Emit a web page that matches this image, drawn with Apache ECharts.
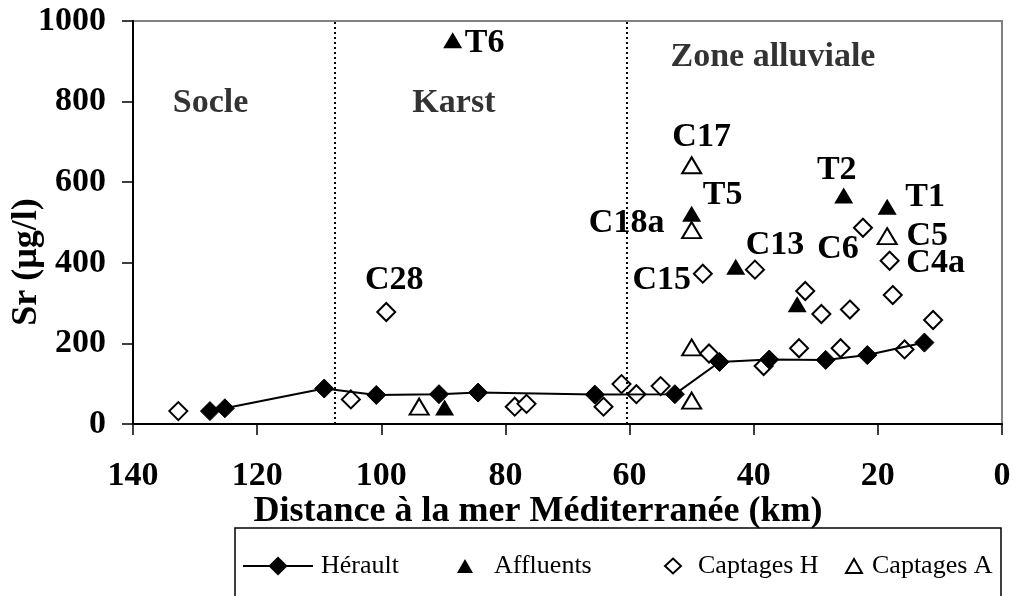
<!DOCTYPE html>
<html lang="fr">
<head>
    <meta charset="UTF-8">
    <title>Sr - Hérault</title>
    <script src="https://cdn.jsdelivr.net/npm/echarts@6/dist/echarts.min.js"></script>
    <style>
        html, body { margin: 0; padding: 0; background: #fff; }
        #chart { width: 1014px; height: 596px; }
    </style>
</head>
<body>
    <div id="chart"></div>
    <script>
        // données (distance en km, Sr en µg/l)
        var heraultKm = [127.6, 125.2, 109.2, 100.8, 90.7, 84.4, 65.6, 52.7, 45.5, 37.5, 28.4, 21.7, 12.5];
        var heraultSr = [32, 39, 88, 72, 74, 78, 73, 74, 154, 160, 159, 171, 202];

        var affluentsKm = [89.8, 88.5, 50, 42.9, 33, 25.5, 18.5];
        var affluentsSr = [41, 952, 522, 390, 297, 567, 539];
        var affluentsLbl = ['', 'T6', 'T5', '', '', 'T2', 'T1'];

        var captHKm = [132.7, 104.9, 99.2, 78.5, 76.6, 64.2, 61.3, 58.9, 55, 48.2, 47.2, 39.8, 38.4, 32.7, 31.7, 29.1, 26, 24.5, 22.4, 18.1, 17.6, 15.7, 11.1];
        var captHSr = [32, 61, 278, 43, 50, 43, 99, 74, 94, 373, 175, 383, 144, 188, 330, 273, 188, 284, 487, 405, 320, 185, 258];
        var captHLbl = ['', '', 'C28', '', '', '', '', '', '', 'C15', '', 'C13', '', '', '', '', '', '', 'C6', 'C4a', '', '', ''];

        var captAKm = [93.9, 50, 50, 50, 50, 18.5];
        var captASr = [43, 642, 481, 190, 58, 466];
        var captALbl = ['', 'C17', 'C18a', '', '', 'C5'];

        var zoneNames = ['Socle', 'Karst', 'Zone alluviale'];
        var zoneKm = [127.5, 88.3, 36.9];
        var zoneSr = [795, 795, 910];
        var zoneBounds = [107.5, 60.5];

        var xTicks = { min: 0, max: 140, step: 20 };
        var yTicks = { min: 0, max: 1000, step: 200 };

        // décalage des étiquettes (px) par rapport au point
        var labelOffset = {
            T6: [32, 3], T5: [31, -18], T2: [-7, -25], T1: [38, -10],
            C17: [10, -28], C18a: [-65, -7], C5: [40, 0],
            C28: [8, -32], C15: [-41, 7], C13: [20, -24], C6: [-25, 21], C4a: [46, 2]
        };

        var serif = '"Liberation Serif", "Times New Roman", serif';

        function points(km, sr, lbl) {
            var out = [];
            for (var i = 0; i < km.length; i++) {
                var p = { value: [km[i], sr[i]] };
                if (lbl && lbl[i]) {
                    p.name = lbl[i];
                    p.label = {
                        show: true,
                        position: 'inside',
                        offset: labelOffset[lbl[i]],
                        formatter: '{b}',
                        color: '#000',
                        fontFamily: serif,
                        fontWeight: 'bold',
                        fontSize: 34
                    };
                }
                out.push(p);
            }
            return out;
        }

        var zoneData = [];
        for (var i = 0; i < zoneNames.length; i++) {
            zoneData.push({ name: zoneNames[i], value: [zoneKm[i], zoneSr[i]] });
        }

        // une légende par entrée pour caler les positions
        function legendItem(name, left, iconW, iconH, pad) {
            return {
                data: [name],
                left: left, top: 553, padding: 0,
                itemWidth: iconW, itemHeight: iconH,
                textStyle: { color: '#000', fontFamily: serif, fontSize: 26, padding: [0, 0, 0, pad] }
            };
        }

        var myChart = echarts.init(document.getElementById('chart'));

        var option = {
            backgroundColor: '#fff',
            animation: false,
            grid: {
                left: 133, right: 12, top: 21, bottom: 172,
                show: true, borderColor: '#808080', borderWidth: 2
            },
            xAxis: {
                type: 'value',
                inverse: true,
                min: xTicks.min, max: xTicks.max, interval: xTicks.step,
                axisLine: { lineStyle: { color: '#000', width: 2 } },
                axisTick: { show: true, length: 11, lineStyle: { color: '#000', width: 1.5 } },
                axisLabel: { margin: 35, color: '#000', fontFamily: serif, fontWeight: 'bold', fontSize: 34 },
                splitLine: { show: false }
            },
            yAxis: {
                type: 'value',
                position: 'left',
                min: yTicks.min, max: yTicks.max, interval: yTicks.step,
                axisLine: { show: true, onZero: false, lineStyle: { color: '#000', width: 2 } },
                axisTick: { show: true, length: 11, lineStyle: { color: '#000', width: 1.5 } },
                axisLabel: {
                    margin: 27, color: '#000', fontFamily: serif, fontWeight: 'bold', fontSize: 34,
                    formatter: function (v) { return String(v); }
                },
                splitLine: { show: false }
            },
            legend: [
                legendItem('Hérault', 242, 70, 24, 3),
                legendItem('Affluents', 457, 16, 14, 16),
                legendItem('Captages H', 664, 16, 15, 12),
                legendItem('Captages A', 845, 16, 14, 5)
            ],
            graphic: [
                {
                    type: 'rect',
                    shape: { x: 235, y: 528, width: 766, height: 90 },
                    style: { fill: 'none', stroke: '#000', lineWidth: 1.5 }
                },
                {
                    type: 'text',
                    x: 27, y: 262, rotation: Math.PI / 2,
                    style: {
                        text: 'Sr (µg/l)', fill: '#000', font: 'bold 36px ' + serif,
                        textAlign: 'center', textVerticalAlign: 'middle'
                    }
                },
                {
                    type: 'text',
                    x: 538, y: 512,
                    style: {
                        text: 'Distance à la mer Méditerranée (km)', fill: '#000', font: 'bold 36px ' + serif,
                        textAlign: 'center', textVerticalAlign: 'middle'
                    }
                }
            ],
            series: [
                {
                    name: 'zones',
                    type: 'scatter',
                    symbolSize: 0,
                    silent: true,
                    data: zoneData,
                    label: {
                        show: true, position: 'inside', formatter: '{b}',
                        color: '#000', fontFamily: serif, fontWeight: 'bold', fontSize: 34
                    },
                    markLine: {
                        silent: true,
                        symbol: 'none',
                        label: { show: false },
                        lineStyle: { color: '#000', width: 2, type: [2, 3] },
                        data: zoneBounds.map(function (b) { return { xAxis: b }; })
                    }
                },
                {
                    name: 'Captages H',
                    type: 'scatter',
                    symbol: 'diamond',
                    symbolSize: 18,
                    itemStyle: { color: '#fff', borderColor: '#000', borderWidth: 2, opacity: 1 },
                    data: points(captHKm, captHSr, captHLbl),
                    z: 3
                },
                {
                    name: 'Captages A',
                    type: 'scatter',
                    symbol: 'triangle',
                    symbolSize: [19, 16],
                    itemStyle: { color: '#fff', borderColor: '#000', borderWidth: 2, opacity: 1 },
                    data: points(captAKm, captASr, captALbl),
                    z: 3
                },
                {
                    name: 'Affluents',
                    type: 'scatter',
                    symbol: 'triangle',
                    symbolSize: [19, 16],
                    itemStyle: { color: '#000', opacity: 1 },
                    data: points(affluentsKm, affluentsSr, affluentsLbl),
                    z: 4
                },
                {
                    name: 'Hérault',
                    type: 'line',
                    symbol: 'diamond',
                    symbolSize: 19,
                    showAllSymbol: true,
                    lineStyle: { color: '#000', width: 2 },
                    itemStyle: { color: '#000', borderColor: '#000' },
                    data: points(heraultKm, heraultSr),
                    z: 5
                }
            ]
        };

        myChart.setOption(option);
    </script>
</body>
</html>
